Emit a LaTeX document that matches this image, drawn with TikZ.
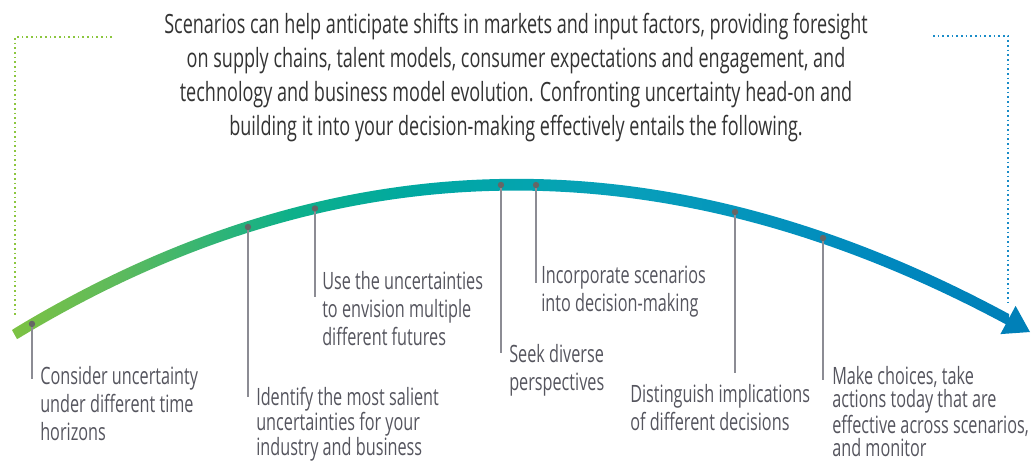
\documentclass[tikz,border=0pt]{standalone}
\usepackage{fontspec}
\setmainfont{Open Sans}[FakeStretch=0.68]
\usetikzlibrary{calc}
\definecolor{sc0}{HTML}{7DC243}
\definecolor{sc1}{HTML}{5BBA5E}
\definecolor{sc2}{HTML}{0DB08A}
\definecolor{sc3}{HTML}{00A8A2}
\definecolor{sc4}{HTML}{08A0BA}
\definecolor{sc5}{HTML}{0088BE}
\definecolor{scblue}{HTML}{0080B8}
\definecolor{dotgreen}{HTML}{8CC63F}
\definecolor{dotblue}{HTML}{1A8CC8}
\definecolor{labelgray}{HTML}{55555E}
\definecolor{leadergray}{HTML}{8C8C94}
\pgfdeclarehorizontalshading{arcshade}{100bp}{color(0bp)=(sc0); color(25bp)=(sc0);
	color(30.6bp)=(sc1); color(39bp)=(sc2); color(45.5bp)=(sc3);
	color(55.3bp)=(sc4); color(69bp)=(sc5); color(75bp)=(scblue); color(100bp)=(scblue)}
\tikzset{
	every path/.style={thin},
	lbl/.style={
		anchor=north west,
		align=left,
		inner sep=0pt,
		text=labelgray,
		font=\fontsize{17.9}{21}\selectfont,
	},
	intro/.style={
		align=center,
		inner sep=0pt,
		text=black!80,
		font=\fontsize{19.9}{25.5}\selectfont,
	},
	leader/.style={
		draw=leadergray,
		line width=1.1pt,
	},
	pin/.style={
		fill=black!60,
	},
	frame/.style={
		line width=1.3pt,
		dash pattern=on 1.3pt off 2.2pt,
	},
}

\begin{document}
\begin{tikzpicture}[x=0.75pt,y=-0.75pt]
		\useasboundingbox (0,0) rectangle (1033,472);

		\node[intro] (top) at (516,78) {Scenarios can help anticipate shifts in markets and input factors, providing foresight\\
			on supply chains, talent models, consumer expectations and engagement, and\\
			technology and business model evolution. Confronting uncertainty head-on and\\
			building it into your decision-making effectively entails the following.};

		% dotted brackets
		\draw[frame,draw=dotgreen] (112,37) -- (15,37) -- (15,315);
		\draw[frame,draw=dotblue] (933,36) -- (1008,36) -- (1008,303);

		% the arc
		\shade[shading=arcshade]
			(12,330) -- (15,328) .. controls (346,128.2) and (677,134.7) .. (1009,314)
			-- (1009,326) .. controls (677,146.7) and (346,140.2) .. (19,338) -- (17,339) -- cycle;
		\path (15,334) .. controls (346,134.2) and (677,140.7) .. (1008,320)
			coordinate[pos=0.0171] (d1)
			coordinate[pos=0.2346] (d2)
			coordinate[pos=0.3021] (d3)
			coordinate[pos=0.4894] (d4)
			coordinate[pos=0.5247] (d5)
			coordinate[pos=0.7251] (d6)
			coordinate[pos=0.8137] (d7);
		\coordinate (a1) at (1015.6,305.9);
		\coordinate (a2) at (1030,332);
		\coordinate (a3) at (1000.4,334.1);
		\fill[scblue] (a1) -- (a2) -- (a3) -- cycle;

		% labels
		\node[lbl] (l1) at (40,366) {Consider uncertainty\\under different time\\horizons};
		\node[lbl,font=\fontsize{17.9}{18.8}\selectfont] (l2) at (256,387) {Identify the most salient\\uncertainties for your\\industry and business};
		\node[lbl] (l3) at (322,271) {Use the uncertainties\\to envision multiple\\different futures};
		\node[lbl] (l4) at (509,344) {Seek diverse\\perspectives};
		\node[lbl] (l5) at (541,266) {Incorporate scenarios\\into decision-making};
		\node[lbl] (l6) at (630,384) {Distinguish implications\\of different decisions};
		\node[lbl,font=\fontsize{17.9}{17.6}\selectfont] (l7) at (832,366) {Make choices, take\\actions today that are\\effective across scenarios,\\and monitor};

		\coordinate (e1) at (d1 |- 0,379);
		\coordinate (e2) at (d2 |- 0,397);
		\coordinate (e3) at (d3 |- 0,297);
		\coordinate (e4) at (d4 |- 0,353);
		\coordinate (e5) at (d5 |- 0,283);
		\coordinate (e6) at (d6 |- 0,373);
		\coordinate (e7) at (d7 |- 0,380);

		\foreach \i in {1,...,7}{
			\draw[leader] (d\i) -- (e\i);
			\fill[pin] (d\i) circle (2.4pt);
		}

	\end{tikzpicture}
\end{document}
